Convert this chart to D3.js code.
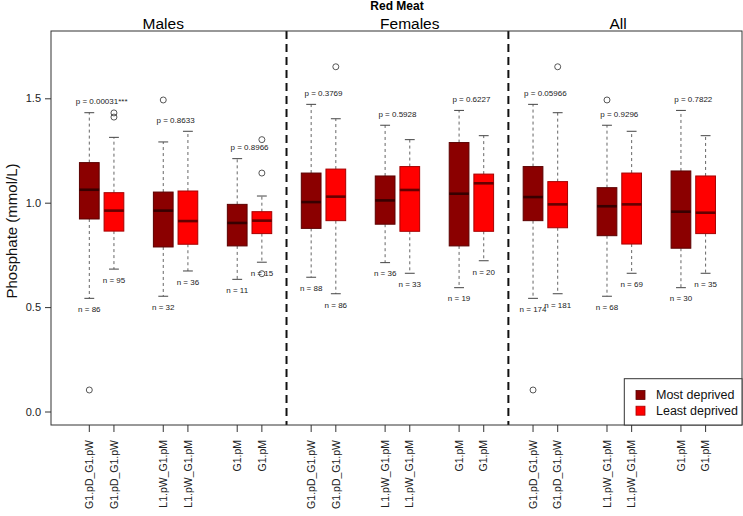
<!DOCTYPE html>
<html>
<head>
<meta charset="utf-8">
<script src="https://cdn.jsdelivr.net/npm/d3@7/dist/d3.min.js"></script>
<style>
  html, body { margin: 0; padding: 0; background: #fff; }
  svg { display: block; font-family: "Liberation Sans", Arial, Helvetica, sans-serif; }
</style>
</head>
<body>
<svg id="chart" width="743" height="516"></svg>
<script>
// ---------------- data ----------------
const title = "Red Meat";
const groups = ["Males", "Females", "All"];
const deprivation = ["Most deprived", "Least deprived"];
const tickLabels = ["G1.pD_G1.pW", "G1.pD_G1.pW", "L1.pW_G1.pM", "L1.pW_G1.pM", "G1.pM", "G1.pM"];
const yTicks = [0, 0.5, 1.0, 1.5];
const yLabel = "Phosphate (mmol/L)";

// 18 boxes: per group, 3 comparisons x (Most, Least)
const whiskerLow  = [0.542, 0.682, 0.552, 0.673, 0.633, 0.715,
                     0.643, 0.564, 0.713, 0.662, 0.593, 0.722,
                     0.542, 0.564, 0.552, 0.662, 0.593, 0.662];
const q1          = [0.922, 0.864, 0.788, 0.801, 0.793, 0.852,
                     0.877, 0.914, 0.897, 0.863, 0.793, 0.863,
                     0.914, 0.880, 0.842, 0.802, 0.782, 0.852];
const median      = [1.062, 0.962, 0.962, 0.912, 0.903, 0.914,
                     1.003, 1.029, 1.011, 1.061, 1.043, 1.093,
                     1.027, 0.992, 0.983, 0.992, 0.957, 0.952];
const q3          = [1.192, 1.048, 1.051, 1.056, 0.992, 0.957,
                     1.142, 1.161, 1.128, 1.173, 1.288, 1.137,
                     1.173, 1.101, 1.072, 1.142, 1.152, 1.128];
const whiskerHigh = [1.431, 1.313, 1.291, 1.342, 1.211, 1.032,
                     1.471, 1.402, 1.371, 1.302, 1.442, 1.321,
                     1.471, 1.431, 1.371, 1.342, 1.442, 1.321];
const outliers    = [[0.103], [1.43, 1.41], [1.492], [], [], [1.302, 1.142, 0.66],
                     [], [1.651], [], [], [], [],
                     [0.103], [1.651], [1.492], [], [], []];
const nCounts     = [86, 95, 32, 36, 11, 15,
                     88, 86, 36, 33, 19, 20,
                     174, 181, 68, 69, 30, 35];
const pValues     = ["p = 0.00031***", "p = 0.8633", "p = 0.8966",
                     "p = 0.3769", "p = 0.5928", "p = 0.6227",
                     "p = 0.05966", "p = 0.9296", "p = 0.7822"];

// ---------------- layout ----------------
const fills = ["#8B0000", "#FF0000"];
const plot = { left: 51, right: 742, top: 31, bottom: 425 };

// box positions (R style: 2 boxes, gap, ..., separator slot between groups)
const positions = [];
groups.forEach((g, gi) => {
  for (let c = 0; c < 3; c++) {
    for (let s = 0; s < 2; s++) positions.push(gi * 9 + c * 3 + s + 1);
  }
});
const separators = [9, 18];
const groupLabelPos = [4, 14, 22.45];

const x = d3.scaleLinear().domain([1, 26]).range([89.3, 705.6]);
const y = d3.scaleLinear().domain([0, 1.5]).range([411.5, 98.3]);
const boxW = x(1.8) - x(1);
const capW = boxW / 2;

const svg = d3.select("#chart");

// title & group labels
svg.append("text").attr("x", 397).attr("y", 9.5).attr("text-anchor", "middle")
  .attr("font-size", 12).attr("font-weight", "bold").text(title);
svg.selectAll(".glabel").data(groups).enter().append("text")
  .attr("x", (d, i) => x(groupLabelPos[i])).attr("y", 28.5)
  .attr("text-anchor", "middle").attr("font-size", 15.5).text(d => d);

// boxes
const boxes = positions.map((p, i) => ({
  p, i, fill: fills[i % 2],
  lo: whiskerLow[i], q1: q1[i], med: median[i], q3: q3[i], hi: whiskerHigh[i],
  out: outliers[i], n: nCounts[i]
}));

const gBox = svg.append("g");
boxes.forEach(b => {
  const cx = x(b.p);
  const g = gBox.append("g");
  // whiskers (dashed)
  g.append("line").attr("x1", cx).attr("x2", cx).attr("y1", y(b.q3)).attr("y2", y(b.hi))
    .attr("stroke", "#555").attr("stroke-width", 0.9).attr("stroke-dasharray", "3,3");
  g.append("line").attr("x1", cx).attr("x2", cx).attr("y1", y(b.q1)).attr("y2", y(b.lo))
    .attr("stroke", "#555").attr("stroke-width", 0.9).attr("stroke-dasharray", "3,3");
  // caps
  [b.hi, b.lo].forEach(v => {
    g.append("line").attr("x1", cx - capW / 2).attr("x2", cx + capW / 2)
      .attr("y1", y(v)).attr("y2", y(v)).attr("stroke", "#444").attr("stroke-width", 1);
  });
  // box
  g.append("rect").attr("x", cx - boxW / 2).attr("width", boxW)
    .attr("y", y(b.q3)).attr("height", y(b.q1) - y(b.q3))
    .attr("fill", b.fill).attr("stroke", d3.color(b.fill).darker(1.2)).attr("stroke-width", 1);
  // median
  g.append("line").attr("x1", cx - boxW / 2).attr("x2", cx + boxW / 2)
    .attr("y1", y(b.med)).attr("y2", y(b.med))
    .attr("stroke", d3.color(b.fill).darker(2.6)).attr("stroke-width", 2.6);
  // outliers
  b.out.forEach(v => {
    g.append("circle").attr("cx", cx).attr("cy", y(v)).attr("r", 3)
      .attr("fill", "none").attr("stroke", "#444").attr("stroke-width", 0.9);
  });
  // n label
  g.append("text").attr("x", cx).attr("y", y(b.lo) + 11).attr("dy", "0.35em")
    .attr("text-anchor", "middle").attr("font-size", 8).attr("fill", "#222")
    .text("n = " + b.n);
});

// p labels
pValues.forEach((pv, k) => {
  const a = boxes[2 * k], b = boxes[2 * k + 1];
  const top = Math.max(a.hi, b.hi);
  svg.append("text").attr("x", (x(a.p) + x(b.p)) / 2).attr("y", y(top) - 11.5).attr("dy", "0.35em")
    .attr("text-anchor", "middle").attr("font-size", 8).attr("fill", "#222").text(pv);
});

// separators
separators.forEach(s => {
  svg.append("line").attr("x1", x(s)).attr("x2", x(s)).attr("y1", plot.top).attr("y2", plot.bottom)
    .attr("stroke", "#111").attr("stroke-width", 2).attr("stroke-dasharray", "8,5");
});

// frame
svg.append("rect").attr("x", plot.left).attr("y", plot.top)
  .attr("width", plot.right - plot.left).attr("height", plot.bottom - plot.top)
  .attr("fill", "none").attr("stroke", "#333").attr("stroke-width", 1);

// y axis
const yAxis = svg.append("g").attr("transform", `translate(${plot.left},0)`)
  .call(d3.axisLeft(y).tickValues(yTicks).tickFormat(d3.format(".1f")).tickSize(6).tickPadding(4));
yAxis.select(".domain").remove();
yAxis.selectAll("line").attr("stroke", "#333");
yAxis.selectAll("text").attr("font-size", 11).attr("fill", "#222")
  .attr("font-family", "'Liberation Sans', Arial, sans-serif");

svg.append("text").attr("transform", `translate(17,${(plot.top + plot.bottom) / 2 + 3}) rotate(-90)`)
  .attr("text-anchor", "middle").attr("font-size", 15).attr("fill", "#111").text(yLabel);

// x axis
const xAxis = svg.append("g").attr("transform", `translate(0,${plot.bottom})`);
boxes.forEach(b => {
  const cx = x(b.p);
  xAxis.append("line").attr("x1", cx).attr("x2", cx).attr("y1", 0).attr("y2", 7).attr("stroke", "#333");
  xAxis.append("text").attr("transform", `translate(${cx},15) rotate(-90)`)
    .attr("text-anchor", "end").attr("dy", "0.35em").attr("font-size", 10.5).attr("fill", "#222")
    .text(tickLabels[b.i % 6]);
});

// legend
const lg = svg.append("g");
lg.append("rect").attr("x", 624.3).attr("y", 378.7).attr("width", plot.right - 624.3)
  .attr("height", plot.bottom - 378.7).attr("fill", "#fff").attr("stroke", "#333");
deprivation.forEach((d, i) => {
  const cy = 395 + i * 15.7;
  lg.append("rect").attr("x", 636).attr("y", cy - 4.5).attr("width", 9).attr("height", 9)
    .attr("fill", fills[i]).attr("stroke", d3.color(fills[i]).darker(1.2)).attr("stroke-width", 0.8);
  lg.append("text").attr("x", 656).attr("y", cy).attr("dy", "0.35em")
    .attr("font-size", 12.5).attr("fill", "#111").text(d);
});
</script>
</body>
</html>
